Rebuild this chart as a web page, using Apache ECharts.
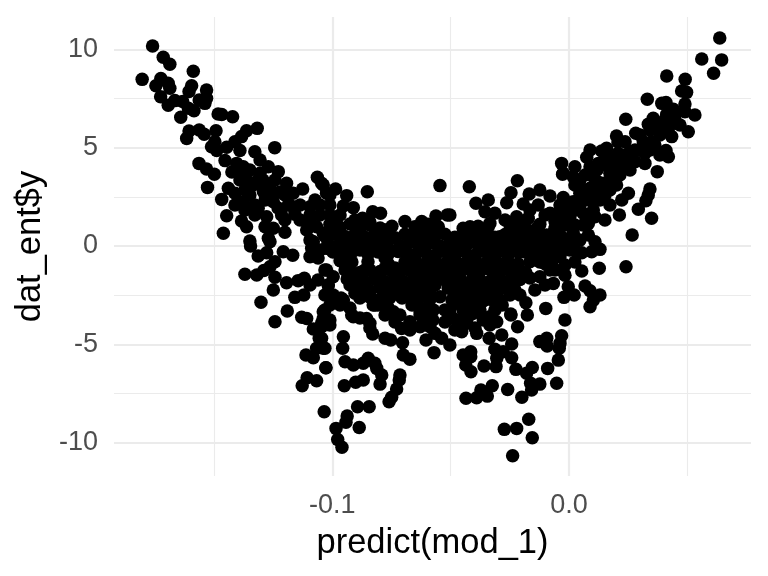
<!DOCTYPE html>
<html>
<head>
<meta charset="utf-8">
<title>dat_ent$y vs predict(mod_1)</title>
<script src="https://cdn.jsdelivr.net/npm/echarts@6/dist/echarts.min.js"></script>
<style>
html, body { margin: 0; padding: 0; background: #fff; }
#chart { width: 768px; height: 576px; }
</style>
</head>
<body>
<div id="chart"></div>
<script>
// axis values
var xMajorTicks = [-0.1, 0];
var xMinorTicks = [-0.15, -0.05, 0.05];
var yMajorTicks = [-10, -5, 0, 5, 10];
var yMinorTicks = [-7.5, -2.5, 2.5, 7.5];

// points, [predict(mod_1), dat_ent$y]
var upperLeftArm = [
	[-0.1759,10.17],[-0.1803,8.47],[-0.1714,9.59],[-0.1686,9.24],[-0.1587,8.88],[-0.1724,8.51],[-0.1693,8.27],[-0.1745,8.15],
	[-0.1686,8.02],[-0.1594,8.15],[-0.1605,7.85],[-0.1531,7.93],[-0.1725,7.59],[-0.1531,7.51],[-0.1562,7.42],[-0.1538,7.25],
	[-0.1693,7.15],[-0.1665,7.39],[-0.1632,7.34],[-0.1608,7.0],[-0.1584,6.88],[-0.164,6.54],[-0.1482,6.71],[-0.1467,6.68],
	[-0.1421,6.57],[-0.1605,5.85],[-0.1562,5.9],[-0.1541,5.68],[-0.1615,5.47],[-0.1491,5.86],[-0.1317,5.98],[-0.1362,5.86],
	[-0.1383,5.56],[-0.1411,5.3],[-0.1496,5.3],[-0.151,5.05],[-0.1488,4.85],[-0.1446,5.02],[-0.1453,4.34],[-0.139,4.85],
	[-0.1327,4.79],[-0.1243,5.0],[-0.1563,4.2],[-0.1531,3.91],[-0.1498,3.65],[-0.1527,2.98],[-0.1404,4.2],[-0.1397,3.78],
	[-0.1376,4.03],[-0.1348,3.86],[-0.1305,4.37],[-0.127,4.03],[-0.1305,3.7],[-0.1228,3.78],[-0.1362,3.36],[-0.1334,3.1],
	[-0.1263,3.1],[-0.1291,2.76],[-0.1193,3.19],[-0.1165,2.68],[-0.1125,2.9],[-0.1063,3.49],[-0.1045,3.19],[-0.1024,2.68],
	[-0.1439,2.93],[-0.1467,2.37],[-0.1411,2.68],[-0.1376,2.25],[-0.1355,1.92],[-0.1313,1.92],[-0.1263,2.68],[-0.1249,2.25],
	[-0.1186,2.08],[-0.1158,1.61],[-0.1214,1.58],[-0.1277,1.49],[-0.1383,1.27],[-0.1362,0.98],[-0.1446,1.54],[-0.146,0.65],
	[-0.1284,0.98],[-0.1249,0.9],[-0.12,0.7],[-0.127,0.39],[-0.1348,0.25],[-0.1108,0.81],[-0.1073,2.34],[-0.1094,1.32],
	[-0.1066,0.98],[-0.1038,0.65],[-0.1094,2.0],[-0.1383,3.52],[-0.1293,3.36],
	[-0.139,3.36],[-0.1348,2.59],[-0.1297,3.1],[-0.1242,3.36],[-0.12,2.59],[-0.1136,2.08],[-0.1136,1.32],[-0.12,1.32],
	[-0.1327,1.58],[-0.1411,2.08],[-0.1369,2.85],[-0.1052,1.58],[-0.1052,2.08],[-0.101,2.08],[-0.101,1.58],[-0.0967,1.58],
	[-0.0904,1.32],[-0.0841,1.22],
	[-0.1424,3.76],[-0.1369,3.46],[-0.1314,3.36],[-0.1284,2.34],[-0.1327,2.08],[-0.1369,1.83],[-0.1221,2.75],[-0.118,2.08],
	[-0.1229,1.93],[-0.1094,1.58]
];
var lowerLeftArm = [
	[-0.1369,-1.44],[-0.1319,-1.47],[-0.1289,-1.25],[-0.1242,-1.59],[-0.1249,-2.24],[-0.1301,-2.86],[-0.1193,-1.87],[-0.1144,-1.76],
	[-0.1118,-1.64],[-0.1094,-1.98],[-0.1158,-2.61],[-0.112,-2.49],[-0.119,-3.3],[-0.1242,-3.85],[-0.1129,-3.62],[-0.1108,-3.68],
	[-0.108,-4.22],[-0.1055,-4.69],[-0.1038,-5.2],[-0.1066,-5.2],[-0.1111,-5.54],[-0.108,-5.68],[-0.1027,-6.19],[-0.1106,-6.7],
	[-0.1066,-6.85],[-0.1127,-7.1],[-0.1034,-8.42],[-0.1038,-3.34],[-0.1038,-3.68],[-0.1045,-4.1],[-0.1024,-1.22],[-0.1017,-1.98],
	[-0.101,-2.54],[-0.1345,0],[-0.1313,-0.51],[-0.1277,-0.34],[-0.1242,-0.8],[-0.1263,-1.05],[-0.1207,-0.29],[-0.1167,-0.47],
	[-0.1094,-0.54],[-0.1087,-0.12],[-0.1024,-0.12],[-0.1263,0.22],[-0.108,0.22],
	[-0.1094,0.3],[-0.1052,-0.2],[-0.106,-0.61],[-0.1031,-1.22],[-0.106,-1.73],[-0.1031,-2.49],[-0.101,-3.0]
];
var centreTop = [
	[-0.0852,2.76],[-0.0545,3.07],[-0.0986,2.9],[-0.101,2.59],[-0.0939,2.56],[-0.1038,3.1],[-0.0953,2.03],[-0.0911,1.95],
	[-0.0872,1.41],[-0.0829,1.74],[-0.0796,1.66],[-0.0693,1.24],[-0.0622,1.24],[-0.0562,1.53],[-0.0514,1.58],[-0.0601,0.81],
	[-0.0552,0.98],[-0.0421,3.01],[-0.0218,3.32],[-0.0245,2.71],[-0.0393,2.17],[-0.0341,2.34],[-0.0263,2.2],[-0.0168,2.64],
	[-0.0123,2.85],[-0.008,2.54],[-0.0024,2.46],[-0.0027,3.65],[-0.0193,2.14],[-0.013,2.08],[-0.0355,1.74],[-0.0313,1.66],
	[-0.027,1.32],[-0.0334,1.15],[-0.0221,1.49],[-0.0503,1.58],[-0.0418,0.98],[-0.0447,0.9],[-0.0172,1.41],[-0.0136,0.9],
	[-0.008,1.66],[-0.0038,1.74],[-0.0059,1.24],[-0.0094,0.56],[-0.0162,0.27],[-0.0214,0.56],[-0.0292,0.47],
	[-0.0101,1.58],[-0.0165,1.83],[-0.0249,0.81],[-0.0207,1.07],[-0.0038,1.07],[-0.0038,0.3],[-0.0123,0.3],[-0.008,-0.1],
	[-0.0989,1.22]
];
var centreCore = [
	[-0.101,1.1],[-0.0967,0.95],[-0.0925,1.12],[-0.0883,0.9],[-0.0841,1.06],[-0.0798,0.92],[-0.0748,1.0],[-0.0651,0.98],[-0.0596,1.1],
	[-0.0384,1.0],[-0.0342,0.95],[-0.0249,1.05],[-0.0186,0.95],[-0.0123,1.1],[-0.0059,0.9],
	[-0.1031,0.5],[-0.0989,0.62],[-0.0946,0.48],[-0.0904,0.6],[-0.0862,0.45],[-0.082,0.62],[-0.0777,0.5],[-0.0735,0.42],[-0.0693,0.6],
	[-0.0651,0.48],[-0.0608,0.62],[-0.0566,0.5],[-0.0524,0.6],[-0.0482,0.45],[-0.0439,0.58],[-0.0397,0.5],[-0.0355,0.62],[-0.0313,0.45],
	[-0.027,0.58],[-0.0228,0.42],[-0.0165,0.6],[-0.0123,0.48],[-0.0072,0.6],
	[-0.1018,0.14],[-0.0976,0.02],[-0.0934,0.18],[-0.0891,0.05],[-0.0849,0.15],[-0.0807,0.0],[-0.0769,0.12],[-0.0714,0.02],[-0.0672,0.18],
	[-0.0629,0.05],[-0.0587,0.16],[-0.0545,0.0],[-0.0503,0.14],[-0.046,0.02],[-0.0418,0.18],[-0.0376,0.04],[-0.0334,0.15],[-0.0292,0.0],
	[-0.0249,0.16],[-0.0207,0.05],[-0.0144,0.1],[-0.0101,-0.02],[-0.0059,0.15],
	[-0.0997,-0.3],[-0.0955,-0.45],[-0.0917,-0.32],[-0.0849,-0.42],[-0.0807,-0.3],[-0.0765,-0.45],[-0.0722,-0.28],[-0.068,-0.42],[-0.0638,-0.3],
	[-0.0596,-0.46],[-0.0553,-0.32],[-0.0511,-0.4],[-0.0469,-0.28],[-0.0427,-0.44],[-0.0384,-0.3],[-0.0342,-0.42],[-0.03,-0.3],[-0.0258,-0.46],
	[-0.0215,-0.32],[-0.0144,-0.4],[-0.0101,-0.3],[-0.0059,-0.42],
	[-0.0967,-0.75],[-0.0934,-0.9],[-0.0849,-0.8],[-0.0765,-0.88],[-0.068,-0.75],[-0.0638,-0.9],[-0.0596,-0.78],[-0.0553,-0.92],[-0.0511,-0.75],
	[-0.0469,-0.88],[-0.0427,-0.78],[-0.0384,-0.9],[-0.0342,-0.75],[-0.03,-0.88],[-0.0258,-0.78],[-0.0215,-0.9],[-0.0165,-0.8],[-0.0101,-0.9],[-0.0072,-0.78],
	[-0.0925,-1.25],[-0.0883,-1.35],[-0.0841,-1.22],[-0.0798,-1.3],[-0.0756,-1.2],[-0.0714,-1.36],[-0.0672,-1.24],[-0.0629,-1.32],[-0.0587,-1.2],
	[-0.0545,-1.34],[-0.0503,-1.25],[-0.046,-1.36],[-0.0418,-1.22],[-0.0376,-1.3],[-0.0334,-1.2],[-0.0292,-1.34],[-0.0249,-1.26],
	[-0.0904,-1.7],[-0.0862,-1.82],[-0.082,-1.68],[-0.0777,-1.8],[-0.0735,-1.7],[-0.0693,-1.84],[-0.0651,-1.66],[-0.0608,-1.78],[-0.0566,-1.7],
	[-0.0503,-1.8],[-0.046,-1.68],[-0.0418,-1.82],[-0.0376,-1.7],[-0.0334,-1.8],[-0.0292,-1.66],[-0.0249,-1.78],[-0.0207,-1.7],
	[-0.0883,-2.15],[-0.0841,-2.26],[-0.0798,-2.12],[-0.0756,-2.25],[-0.0714,-2.15],[-0.0672,-2.28],[-0.0629,-2.14],[-0.0587,-2.22],
	[-0.0439,-2.2],[-0.0397,-2.12],[-0.0355,-2.25],[-0.027,-2.15],[-0.0228,-2.24],
	[-0.0841,-2.6],[-0.0798,-2.7],[-0.0756,-2.62],[-0.0672,-2.66],[-0.0629,-2.58],[-0.0587,-2.7],[-0.0418,-2.68],[-0.0376,-2.6],[-0.0334,-2.7],
	[-0.0807,-3.0],[-0.0765,-3.1],[-0.0638,-3.02],[-0.0596,-3.1],
	[-0.0693,-0.1],[-0.0608,-0.1],[-0.0524,-0.1],[-0.0439,-0.1],[-0.0355,-0.1],[-0.027,-0.1],
	[-0.0651,-0.61],[-0.0566,-0.61],[-0.0482,-0.61],[-0.0397,-0.61],[-0.0313,-0.61],
	[-0.0693,-1.02],[-0.0608,-1.02],[-0.0524,-1.02],[-0.0439,-1.02],[-0.0355,-1.02],[-0.027,-1.02],
	[-0.0651,-1.53],[-0.0566,-1.53],[-0.0482,-1.53],[-0.0397,-1.53],[-0.0313,-1.53],
	[-0.0946,0.3],[-0.0904,0.3],[-0.0862,0.3],[-0.082,0.3],[-0.0777,0.81],[-0.0946,-0.2],[-0.0883,-0.2],[-0.082,-0.2],[-0.0756,-0.2],
	[-0.0862,-1.22],[-0.082,-1.53],[-0.0777,-1.12],[-0.0735,-1.53],[-0.0862,-1.98],[-0.0777,-1.98],[-0.0693,-1.98],[-0.0735,-2.34],[-0.0651,-2.49],[-0.0587,-2.49],
	[-0.0165,-0.2],[-0.0123,-0.81],[-0.008,-1.22],[-0.0101,-1.98],[-0.0165,-1.63],[-0.0059,-0.46],[-0.0207,-1.22],[-0.0228,-1.73],[-0.0249,-2.49],[-0.0292,-2.75],
	[-0.0917,-0.81],[-0.0946,-1.22],[-0.0883,-1.48],[-0.0925,-1.98],[-0.0841,-2.49],[-0.0883,-2.64],[-0.0777,-2.64],[-0.082,-3.0],[-0.0705,-2.64],[-0.0663,-3.0],
	[-0.0629,-3.36],[-0.0693,-0.81],[-0.0735,-1.12],[-0.0777,-0.61],[-0.0735,-1.98],[-0.0651,-2.09],[-0.0608,-2.14],[-0.0566,-1.98],[-0.0524,-1.73],[-0.0482,-1.98],
	[-0.0439,-2.34],[-0.0384,-2.24],[-0.0334,-2.24],[-0.0292,-1.98],[-0.0249,-1.98],[-0.0397,-2.85],[-0.0439,-3.0],[-0.0494,-2.75],
	[-0.0186,0.3],[-0.0228,0.05],[-0.0144,0.05],[-0.0101,-0.46],[-0.0059,0.3],[-0.0059,-1.22]
];
var centreBottom = [
	[-0.0953,-2.75],[-0.0996,-1.56],[-0.1017,-1.98],[-0.0937,-1.68],[-0.0996,-2.49],[-0.0967,-3.0],[-0.1031,-3.25],[-0.0918,-3.51],
	[-0.0855,-3.68],[-0.0904,-2.4],[-0.0827,-3.0],[-0.0742,-3.34],[-0.0545,-2.58],[-0.0573,-3.25],[-0.051,-2.15],[-0.057,-5.42],
	[-0.0703,-4.92],[-0.07,-5.54],[-0.0672,-5.75],[-0.0777,-4.69],[-0.0753,-4.78],[-0.0829,-4.47],[-0.0841,-3.93],[-0.0707,-4.19],
	[-0.0672,-4.27],[-0.0953,-4.61],[-0.0956,-5.2],[-0.1031,-5.2],[-0.0946,-5.88],[-0.0911,-6.05],[-0.0869,-5.96],[-0.0848,-5.71],
	[-0.082,-5.96],[-0.0812,-6.22],[-0.0791,-6.56],[-0.0798,-7.02],[-0.0714,-6.56],[-0.0717,-6.81],[-0.0728,-7.27],[-0.0749,-7.69],
	[-0.076,-7.92],[-0.0869,-6.81],[-0.0901,-6.93],[-0.0949,-7.1],[-0.1027,-6.19],[-0.0893,-8.17],[-0.0844,-8.17],[-0.0937,-8.64],
	[-0.0942,-8.96],[-0.0886,-9.22],[-0.0984,-9.27],[-0.0977,-9.83],[-0.0959,-10.23],[-0.0911,-3.59],[-0.101,-4.02],[-0.101,-3.76],
	[-0.1045,-3.92],[-0.1045,-4.69],[-0.0749,-3.42],[-0.0714,-3.51],[-0.0629,-4.1],[-0.0601,-3.93],[-0.0575,-3.76],[-0.0672,-3.85],
	[-0.0604,-4.78],[-0.0566,-4.44],[-0.0587,-4.1],[-0.0538,-4.69],[-0.0503,-5.03],[-0.0453,-4.36],[-0.039,-4.44],[-0.0337,-4.69],
	[-0.0284,-4.52],[-0.0488,-3.68],[-0.0432,-3.93],[-0.0362,-3.76],[-0.0305,-3.85],[-0.0404,-3.42],[-0.0334,-3.59],[-0.0447,-3.25],
	[-0.0524,-3.25],[-0.0474,-2.91],[-0.046,-2.66],[-0.0425,-2.58],[-0.0488,-2.24],[-0.0362,-2.8],[-0.0305,-2.32],
	[-0.0238,-10.66],[-0.0273,-9.32],[-0.0221,-9.27],[-0.0155,-9.75],[-0.017,-8.81],[-0.0199,-7.69],[-0.0259,-7.29],[-0.0324,-7.1],
	[-0.0345,-7.63],[-0.0372,-7.32],[-0.039,-7.71],[-0.0435,-7.74],[-0.0158,-7.32],[-0.0162,-6.98],[-0.0123,-7.02],[-0.0052,-6.98],
	[-0.009,-6.22],[-0.0155,-6.17],[-0.0179,-6.47],[-0.0224,-6.27],[-0.0242,-5.68],[-0.0308,-6.13],[-0.0359,-6.1],[-0.0414,-6.39],
	[-0.0436,-6.05],[-0.0447,-5.54],[-0.0415,-5.37],[-0.0415,-5.63],[-0.0313,-5.25],[-0.0305,-5.71],[-0.0278,-5.37],[-0.0242,-4.98],
	[-0.0123,-4.86],[-0.0094,-4.69],[-0.0092,-5.08],[-0.0045,-5.8],[-0.0041,-5.2],[-0.0038,-4.95],[-0.0031,-4.56],[-0.0017,-3.76],
	[-0.0217,-4.1],[-0.0176,-3.51],[-0.0245,-3.51],[-0.0282,-3.0],[-0.0246,-3.46],[-0.0182,-2.88],[-0.0207,-2.49],[-0.0098,-3.17],
	[-0.0021,-2.61],[-0.0144,-2.24],[-0.0066,-1.9],[-0.0123,-1.56],[-0.0182,-1.36],[-0.0031,-1.22],[-0.0038,-0.54],[-0.0193,-0.29],
	[-0.0963,-2.64],[-0.0925,-3.15],[-0.0883,-3.66],[-0.0841,-4.17],[-0.0503,-3.25],[-0.046,-3.76],[-0.0418,-3.51],[-0.0376,-3.25],
	[-0.0334,-4.02],[-0.0397,-4.17],[-0.0313,-3.25],[-0.0482,-4.27],[-0.0524,-3.86],[-0.0629,-3.51],[-0.0587,-3.36],[-0.0777,-3.51],[-0.0735,-3.86]
];
var rightArm = [
	[0.0637,10.57],[0.0561,9.51],[0.0645,9.46],[0.0611,8.78],[0.0413,8.64],[0.0491,8.47],[0.0476,7.88],[0.0497,7.81],
	[0.0331,7.46],[0.0392,7.25],[0.041,7.29],[0.049,7.22],[0.0441,6.95],[0.0413,6.7],[0.049,6.83],[0.0532,6.66],
	[0.024,6.44],[0.0356,6.49],[0.0335,6.19],[0.037,6.07],[0.0455,6.24],[0.042,5.98],[0.0504,5.81],[0.0434,5.56],
	[0.0201,5.59],[0.0282,5.73],[0.0237,5.3],[0.0349,5.3],[0.0314,5.3],[0.0089,4.88],[0.0159,4.97],[0.0138,4.83],
	[0.041,4.85],[0.0384,4.63],[0.042,4.54],[0.0075,4.51],[0.0321,4.71],[0.0208,4.71],[0.0258,4.79],[0.0173,4.54],
	[0.0321,4.2],[0.0279,4.29],[0.0229,4.12],[0.0124,4.2],[0.0025,4.03],[0.0089,4.03],[-0.0031,4.2],[-0.0024,3.7],
	[0.0373,3.78],[0.0258,3.86],[0.0173,3.7],[0.0215,3.61],[0.0145,3.19],[0.0103,3.52],[0.0046,3.36],[0.0018,3.52],
	[0.0201,3.1],[0.0342,2.9],[0.0335,2.59],[0.0325,2.3],[0.0251,2.68],[0.0223,2.34],[0.0293,1.87],[0.0349,1.41],
	[0.0213,1.58],[0.0152,1.32],[0.0173,2.08],[0.0152,2.59],[0.0089,2.93],[0.0089,2.34],[0.0103,1.83],[0.0046,2.68],
	[0.0018,2.25],[0.006,1.66],[0.011,1.49],[0.0004,1.49],[0.0082,1.15],[0.0018,0.65],[0.0082,0.56],[0.0267,0.56],
	[0.011,0.22],[0.0131,-0.17],[0.0096,-0.29],[0.0054,-0.34],[-0.0031,0.47],[-0.0024,-0.2],[0.0241,-1.05],[0.0128,-1.13],
	[0.0054,-1.27],[0.0068,-2.03],[0.0089,-2.27],[0.0131,-2.49],[0.0103,-2.75],[0.0089,-3.09],[0.0022,-2.49],[-0.0003,-2.07],
	[0.0025,3.1],[0.0068,2.85],[0.0004,2.08],[0.0046,2.08],[-0.0038,2.08],[0.0089,1.58],[0.0025,1.07],[-0.0017,1.07],
	[0.0046,0.3],[0.0004,0.3],[0.0025,-0.2],[-0.0017,-0.97],[0.0118,3.86],[0.0152,4.12],[0.0131,3.1],[0.0173,2.85],
	[0.0131,2.34],[0.0194,4.37],[0.0237,4.63],[0.03,4.88],[0.0342,4.88],[0.0384,5.64],[0.0469,6.15],[0.0363,5.13],[0.0258,4.12],
	[-0.0017,1.58],[0.0025,1.83],[0.0068,2.34],[0.011,2.59],[0.0123,3.25],[0.0173,3.36],[0.0224,4.12],[0.0182,3.97],[0.0279,4.88],
	[0.0207,5.29],[0.0152,4.37],[0.0068,3.61],[0.0059,1.07],[0.0004,-0.2],[0.0025,-0.81],[-0.0017,-1.48],[0.0342,5.9],[0.0406,6.41],
	[0.0448,6.66],[0.03,5.64]
];

var allPoints = [].concat(upperLeftArm, lowerLeftArm, centreTop, centreCore, centreBottom, rightArm);

var gridLine = '#EBEBEB';
var tickColor = '#4D4D4D';
var fontName = '"Liberation Sans", Arial, sans-serif';

var xRange = { min: -0.1922, max: 0.0769 };
var yRange = { min: -11.69, max: 11.64 };

function linesOnly(range, ticks, width) {
	return {
		type: 'value',
		min: range.min,
		max: range.max,
		axisLine: { show: false },
		axisTick: { show: false, customValues: ticks },
		axisLabel: { show: false },
		splitLine: { show: true, lineStyle: { color: gridLine, width: width } }
	};
}

var xMajor = linesOnly(xRange, xMajorTicks, 2.2);
xMajor.axisLabel = {
	show: true,
	customValues: xMajorTicks,
	margin: 16,
	color: tickColor,
	fontFamily: fontName,
	fontSize: 27,
	formatter: function(v) { return v.toFixed(1); }
};
xMajor.name = 'predict(mod_1)';
xMajor.nameLocation = 'middle';
xMajor.nameGap = 50;
xMajor.nameTextStyle = { color: '#000', fontFamily: fontName, fontSize: 34.5 };

var yMajor = linesOnly(yRange, yMajorTicks, 2.2);
yMajor.axisLabel = {
	show: true,
	customValues: yMajorTicks,
	margin: 16,
	padding: [3, 0, 0, 0],
	color: tickColor,
	fontFamily: fontName,
	fontSize: 27
};
yMajor.name = 'dat_ent$y';
yMajor.nameLocation = 'middle';
yMajor.nameGap = 65;
yMajor.nameTextStyle = { color: '#000', fontFamily: fontName, fontSize: 34.5 };

var option = {
	animation: false,
	backgroundColor: '#fff',
	grid: { left: 114, right: 17, top: 17, bottom: 100 },
	xAxis: [xMajor, linesOnly(xRange, xMinorTicks, 1.1)],
	yAxis: [yMajor, linesOnly(yRange, yMinorTicks, 1.1)],
	series: [{
		type: 'scatter',
		xAxisIndex: 0,
		yAxisIndex: 0,
		symbol: 'circle',
		symbolSize: 13.5,
		silent: true,
		itemStyle: { color: '#000', opacity: 1 },
		data: allPoints
	}]
};

var myChart = echarts.init(document.getElementById('chart'), null, { renderer: 'canvas' });
myChart.setOption(option);
</script>
</body>
</html>
